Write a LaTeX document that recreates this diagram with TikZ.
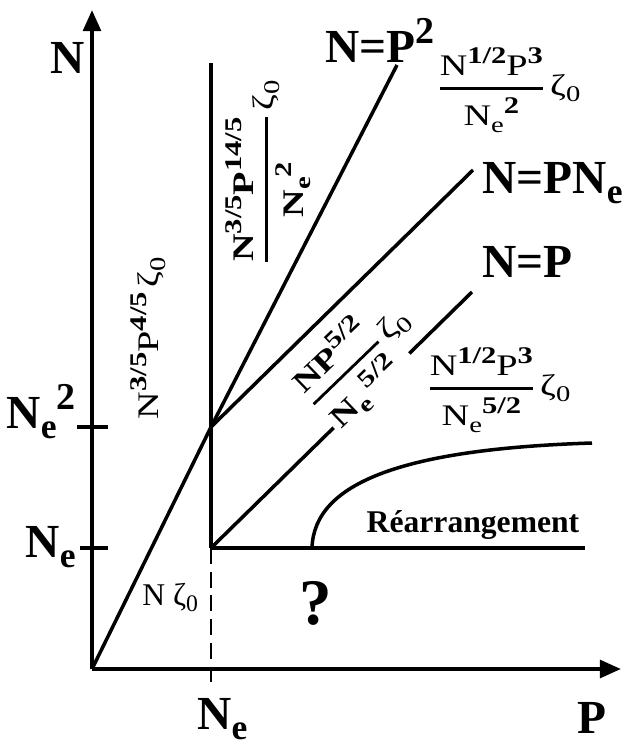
\documentclass[tikz,border=0pt]{standalone}
\usepackage{amsmath}
\usepackage{graphicx}
\usepackage{fontspec}
\setmainfont{Liberation Serif}
\newfontfamily\widefont[FakeStretch=1.28]{Liberation Serif}
\usetikzlibrary{arrows.meta,calc}

\newcommand{\hi}[1]{\raisebox{0.4em}{\bfseries\scalebox{0.8}{#1}}}
\newcommand{\lo}[1]{\raisebox{-0.22em}{\scalebox{0.75}{#1}}}
\newcommand{\zetazero}{{\mdseries ζ\lo{0}}}
\newcommand{\ratiofrac}[2]{$\genfrac{}{}{1.6pt}{0}{\text{#1}}{\text{#2}}\,\vcenter{\hbox{\zetazero}}$}

\begin{document}
\begin{tikzpicture}[x=0.02cm,y=-0.02cm,
  >={Triangle[length=12pt,width=10pt]},
  line/.style={line width=2pt},
  axis/.style={line width=2.3pt,->},
  guide/.style={line width=1.5pt,dash pattern=on 9pt off 4.5pt},
  big/.style={font=\fontsize{27}{28}\selectfont\bfseries,inner sep=0pt},
  ratio/.style={font=\fontsize{17}{19}\selectfont\widefont,inner sep=0pt},
]
\useasboundingbox (0,0) rectangle (622,748);

%% -- axes and ticks ---------------------------------------------------
\coordinate (O)    at (92,669);
\coordinate (Ytop) at (92,10);
\coordinate (Xend) at (621,669);
\draw[axis] (O) -- (Ytop);
\draw[axis] (O) -- (Xend);

\coordinate (tA1) at (77,427);  \coordinate (tA2) at (108,427);
\coordinate (tB1) at (80,548);  \coordinate (tB2) at (108,548);
\draw[line] (tA1) -- (tA2);
\draw[line] (tB1) -- (tB2);

\node[big,anchor=base west] (labN) at (50,73)  {N};
\node[big,anchor=base west] (labP) at (577,733) {P};
\node[big,anchor=base west] (labNeX) at (197,729) {N\lo{e}};
\node[big,anchor=base east] (labNe2) at (76,428) {N\lo{e}\hi{2}};
\node[big,anchor=base east] (labNeY) at (76,557) {N\lo{e}};

%% -- regime boundaries ------------------------------------------------
\coordinate (C)   at (211,427);   % (Ne, Ne^2)
\coordinate (E)   at (211,548);   % (Ne, Ne)
\coordinate (T)   at (211,63);
\coordinate (Pb)  at (211,688);
\coordinate (Sq)  at (397,65);
\coordinate (PNe) at (473,170);
\coordinate (Lin) at (472,292);
\coordinate (R)   at (585,548);
\coordinate (Rs)  at (312,548);
\coordinate (Re)  at (592,443);

\draw[line] (O) -- (C) -- (Sq);
\draw[line] (T) -- (E);
\draw[guide] (E) -- (Pb);
\draw[line] (C) -- (PNe);
\draw[line] (E) -- ($(E)!0.47!(Lin)$);
\draw[line] ($(E)!0.76!(Lin)$) -- (Lin);
\draw[line] (E) -- (R);
\draw[line] (Rs) .. controls (314,482) and (405,449) .. (Re);

\node[big,anchor=base west] (labSq)  at (325,62)  {N=P\hi{2}};
\node[big,anchor=base west] (labPNe) at (482,193) {N=PN\lo{e}};
\node[big,anchor=base west] (labLin) at (482,277) {N=P};

%% -- regime laws --------------------------------------------------------
\node[ratio] (fTop) at (509,90)
  {\ratiofrac{N\hi{1/2}P\hi{3}}{N\lo{e}\hi{2}}};
\node[ratio] (fLow) at (499,390)
  {\ratiofrac{N\hi{1/2}P\hi{3}}{N\lo{e}\hi{5/2}}};
\node[ratio,rotate=90] (fLeft) at (148,338)
  {N\hi{3/5}P\hi{4/5}\,\zetazero};
\node[ratio,rotate=90] (fMid) at (268,172)
  {\bfseries\ratiofrac{N\hi{3/5}P\hi{14/5}}{N\lo{e}\hi{2}}};
\node[ratio,rotate=44] (fDiag) at (360,362)
  {\bfseries\ratiofrac{NP\hi{5/2}}{N\lo{e}\,\hi{5/2}}};
\node[font=\fontsize{18}{20}\selectfont,inner sep=0pt,anchor=base west]
  (fRouse) at (142,605) {N \zetazero};

\node[font=\fontsize{18}{19}\selectfont\bfseries,inner sep=0pt,anchor=base]
  (labRe) at (473,532) {Réarrangement};
\node[font=\fontsize{37}{38}\selectfont\bfseries,inner sep=0pt] (labQ) at (316,603) {?};

\end{tikzpicture}
\end{document}
